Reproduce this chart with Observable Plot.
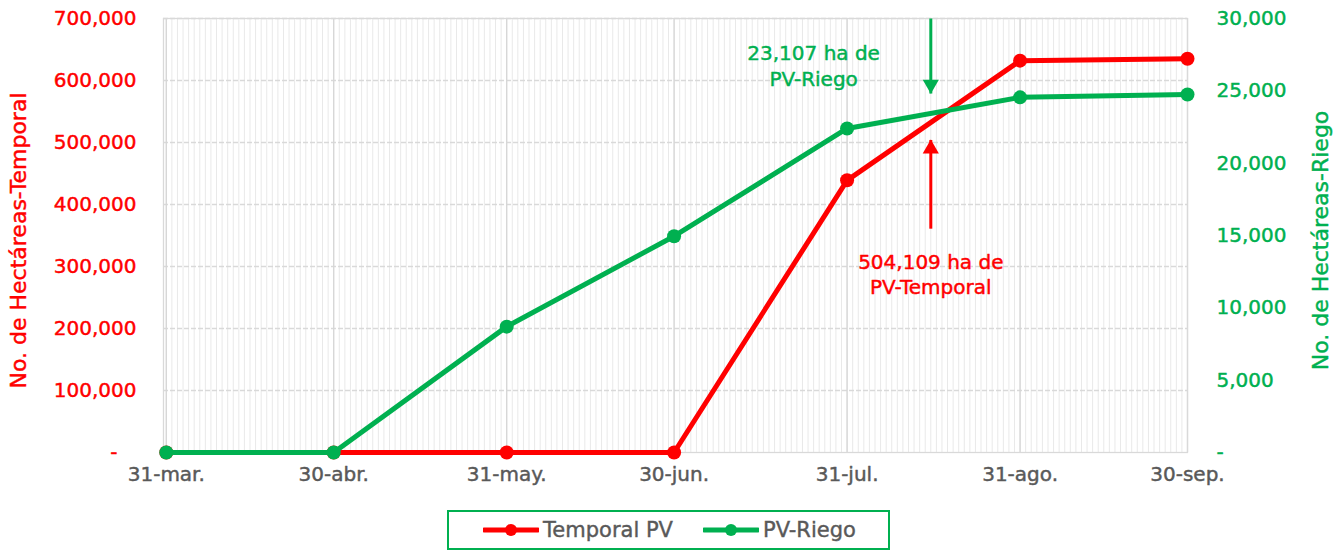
<!DOCTYPE html>
<html><head><meta charset="utf-8">
<script src="https://cdn.jsdelivr.net/npm/d3@7"></script>
<script src="https://cdn.jsdelivr.net/npm/@observablehq/plot@0.6"></script>
<style>
body{margin:0;background:#fff;font-family:"DejaVu Sans",sans-serif;}
#wrap{position:relative;width:1337px;height:552px;}
#legend{position:absolute;left:447px;top:510px;width:443px;height:40px;box-sizing:border-box;border:2px solid #00b050;display:flex;align-items:center;justify-content:center;gap:30px;color:#595959;font-size:21px;-webkit-text-stroke:0.4px #595959;padding-left:2px;}
#legend span{display:flex;align-items:center;gap:4px;}
</style></head>
<body><div id="wrap"><div id="chart"></div><div id="legend"></div></div>
<script>
const dates = ["2023-03-31","2023-04-30","2023-05-31","2023-06-30","2023-07-31","2023-08-31","2023-09-30"];
const tickLabels = ["31-mar.","30-abr.","31-may.","30-jun.","31-jul.","31-ago.","30-sep."];
const temporal = [0,0,0,0,439000,632000,635000];
const riego = [0,0,8700,14950,22400,24550,24750];
const leftTicks = [0,100000,200000,300000,400000,500000,600000,700000];
const rightTicks = [0,5000,10000,15000,20000,25000,30000];
const seriesNames = ["Temporal PV","PV-Riego"];
const annotDate = "2023-08-15";
const greenArrow = [700000, 579000];
const redArrow = [361000, 504109];
const greenText = {date:"2023-07-25", y:626000, text:"23,107 ha de\nPV-Riego"};
const redText = {date:"2023-08-15", y:288500, text:"504,109 ha de\nPV-Temporal"};

const RED="#ff0000", GREEN="#00b050", GRAY="#595959";
const k = 700000/30000;
const parse = d3.utcParse("%Y-%m-%d");
const rows = dates.map((d,i)=>({date:parse(d), label:tickLabels[i], temporal:temporal[i], riego:riego[i]}));
const fmt = v => v===0 ? "-\u00a0\u00a0\u00a0" : d3.format(",")(v);
const fmtR = v => v===0 ? "-" : d3.format(",")(v);
const x0 = new Date(Date.UTC(2023,2,30,12)), x1 = parse("2023-09-30");
const days = d3.utcDay.range(parse("2023-03-31"), d3.utcDay.offset(x1,1));
const ad = parse(annotDate);
const T = (c, extra={}) => ({fill:c, stroke:c, strokeWidth:0.45, fontSize:20, ...extra});

const chart = Plot.plot({
  width:1337, height:500,
  marginLeft:163, marginRight:150, marginTop:18, marginBottom:48,
  style:{fontFamily:"DejaVu Sans, sans-serif", fontSize:"20px", background:"#fff"},
  x:{type:"utc", domain:[x0,x1], axis:null},
  y:{domain:[0,700000], axis:null},
  marks:[
    Plot.ruleX(days, {x:d=>d, stroke:"#e9e9e9", strokeWidth:1}),
    Plot.ruleY(leftTicks.slice(1), {y:d=>d, stroke:"#d9d9d9", strokeWidth:1.3, strokeDasharray:"5,2"}),
    Plot.ruleX(rows, {x:"date", stroke:"#d6d6d6", strokeWidth:1.3}),
    Plot.frame({stroke:"#d9d9d9", strokeWidth:1.3}),
    Plot.text(leftTicks, {y:d=>d, frameAnchor:"left", dx:-27, textAnchor:"end", text:fmt, ...T(RED)}),
    Plot.text(rightTicks, {y:d=>d*k, frameAnchor:"right", dx:29, textAnchor:"start", text:fmtR, ...T(GREEN)}),
    Plot.text(rows, {x:"date", frameAnchor:"bottom", dy:28, text:"label", ...T(GRAY)}),
    Plot.text(["No. de Hectáreas-Temporal"], {frameAnchor:"left", dx:-145, dy:5, rotate:-90, textAnchor:"middle", text:d=>d, ...T(RED, {fontSize:22})}),
    Plot.text(["No. de Hectáreas-Riego"], {frameAnchor:"right", dx:133, dy:5, rotate:-90, textAnchor:"middle", text:d=>d, ...T(GREEN, {fontSize:22})}),
    Plot.line(rows, {x:"date", y:"temporal", stroke:RED, strokeWidth:5}),
    Plot.dot(rows, {x:"date", y:"temporal", r:7, fill:RED}),
    Plot.line(rows, {x:"date", y:d=>d.riego*k, stroke:GREEN, strokeWidth:5}),
    Plot.dot(rows, {x:"date", y:d=>d.riego*k, r:7, fill:GREEN}),
    // annotations
    Plot.link([greenArrow], {x1:()=>ad, x2:()=>ad, y1:d=>d[0], y2:d=>d[1], stroke:GREEN, strokeWidth:3}),
    Plot.dot([greenArrow], {x:()=>ad, y:d=>d[1], symbol:"triangle", rotate:180, r:6, fill:GREEN, dy:-9}),
    Plot.link([redArrow], {x1:()=>ad, x2:()=>ad, y1:d=>d[0], y2:d=>d[1], stroke:RED, strokeWidth:3}),
    Plot.dot([redArrow], {x:()=>ad, y:d=>d[1], symbol:"triangle", r:6, fill:RED, dy:9}),
    Plot.text([greenText], {x:d=>parse(d.date), y:"y", text:"text", lineHeight:1.3, ...T(GREEN)}),
    Plot.text([redText], {x:d=>parse(d.date), y:"y", text:"text", lineHeight:1.25, ...T(RED)})
  ]
});
document.getElementById("chart").append(chart);

const lg = document.getElementById("legend");
[RED, GREEN].forEach((c,i)=>{
  const s = document.createElement("span");
  s.innerHTML = `<svg width="56" height="16"><line x1="1" x2="55" y1="8" y2="8" stroke="${c}" stroke-width="5" stroke-linecap="round"/><circle cx="28" cy="8" r="6" fill="${c}"/></svg>${seriesNames[i]}`;
  lg.append(s);
});
</script></body></html>
